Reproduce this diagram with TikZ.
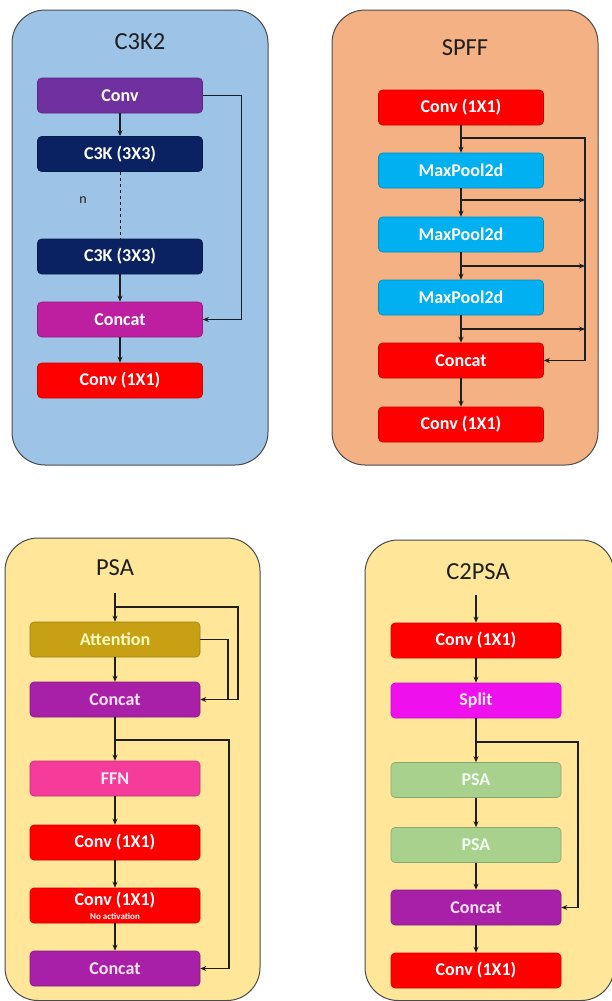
\documentclass[tikz,border=0pt]{standalone}
\usepackage{fontspec}
\setmainfont{Carlito}
\usetikzlibrary{arrows.meta}

\definecolor{panelblue}{HTML}{9DC3E6}
\definecolor{panelpeach}{HTML}{F4B183}
\definecolor{panelyellow}{HTML}{FFE699}
\definecolor{convpurple}{HTML}{7030A0}
\definecolor{c3knavy}{HTML}{0A2262}
\definecolor{catmagenta}{HTML}{BE1EA0}
\definecolor{redbox}{HTML}{FF0000}
\definecolor{poolcyan}{HTML}{00B0F0}
\definecolor{attgold}{HTML}{C8A014}
\definecolor{catpurple}{HTML}{A820A8}
\definecolor{ffnpink}{HTML}{F53C9B}
\definecolor{splitmag}{HTML}{EE11EE}
\definecolor{psagreen}{HTML}{A9D18E}
\definecolor{linegray}{HTML}{1E1E1E}

\tikzset{
  panel/.style={draw=linegray!80, line width=1pt, rounded corners=33pt},
  blk/.style={rounded corners=4pt, minimum height=35pt, inner sep=0pt,
    font=\fontsize{18}{20}\selectfont\bfseries, text=white,
    draw=#1!80!black, line width=0.6pt, fill=#1},
  narrowblk/.style={minimum width=165pt},
  wideblk/.style={minimum width=170pt},
  title/.style={font=\fontsize{24.5}{26}\selectfont, text=linegray},
  arr/.style={draw=linegray, line width=1.2pt, -{Stealth[length=6pt,width=5pt]}},
  ln/.style={draw=linegray, line width=1.2pt},
}

\begin{document}
\begin{tikzpicture}[x=1pt, y=-1pt]
\useasboundingbox (0,0) rectangle (611,1001);
\fill[white] (0,0) rectangle (611,1001);

% ---------- C3K2 ----------
\draw[panel, fill=panelblue] (12,10) rectangle (268,465);
\node[title] (t1) at (140,42) {C3K2};
\node[blk=convpurple, narrowblk] (c1conv) at (120,95.5) {Conv};
\node[blk=c3knavy, narrowblk] (c1ka) at (120,154) {C3K (3X3)};
\node[blk=c3knavy, narrowblk] (c1kb) at (120,256.5) {C3K (3X3)};
\node[blk=catmagenta, narrowblk] (c1cat) at (120,319.5) {Concat};
\node[blk=redbox, narrowblk] (c1out) at (120,380.5) {Conv (1X1)};
\node[font=\fontsize{14}{15}\selectfont, text=linegray] (c1n) at (83,200) {n};
\draw[arr] (c1conv) -- (c1ka);
\draw[ln, dashed, line width=0.9pt] (c1ka) -- (c1kb);
\draw[arr] (c1kb) -- (c1cat);
\draw[arr] (c1cat) -- (c1out);
\draw[arr] (c1conv.east) -- ++(39,0) |- (c1cat.east);

% ---------- SPFF ----------
\draw[panel, fill=panelpeach] (332,10) rectangle (598,465);
\node[title] (t2) at (465,48) {SPFF};
\node[blk=redbox, narrowblk] (s1) at (461,107.5) {Conv (1X1)};
\node[blk=poolcyan, narrowblk] (s2) at (461,170.5) {MaxPool2d};
\node[blk=poolcyan, narrowblk] (s3) at (461,234.5) {MaxPool2d};
\node[blk=poolcyan, narrowblk] (s4) at (461,297.5) {MaxPool2d};
\node[blk=redbox, narrowblk] (s5) at (461,360.5) {Concat};
\node[blk=redbox, narrowblk] (s6) at (461,424.5) {Conv (1X1)};
\draw[arr] (s1) -- (s2);
\draw[arr] (s2) -- (s3);
\draw[arr] (s3) -- (s4);
\draw[arr] (s4) -- (s5);
\draw[arr] (s5) -- (s6);
\coordinate (sb0) at (461,138);
\coordinate (sb1) at (461,200);
\coordinate (sb2) at (461,266);
\coordinate (sb3) at (461,329);
\coordinate (sbus) at (585,138);
\draw[arr] (sb0) -- (sbus) |- (s5.east);
\draw[arr] (sb1) -- (sbus |- sb1);
\draw[arr] (sb2) -- (sbus |- sb2);
\draw[arr] (sb3) -- (sbus |- sb3);

% ---------- PSA ----------
\draw[panel, fill=panelyellow] (5,538) rectangle (260,1000.5);
\node[title] (t3) at (115,568) {PSA};
\node[blk=attgold, wideblk, text=yellow!25] (p1) at (115,639.5) {Attention};
\node[blk=catpurple, wideblk, text=magenta!12] (p2) at (115,699.5) {Concat};
\node[blk=ffnpink, wideblk, text=magenta!8] (p3) at (115,778.5) {FFN};
\node[blk=redbox, wideblk] (p4) at (115,842.5) {Conv (1X1)};
\node[blk=redbox, wideblk, align=center] (p5) at (115,905.5)
  {Conv (1X1)\\[-6pt]{\fontsize{9}{10}\selectfont\bfseries No activation}};
\node[blk=catpurple, wideblk, text=magenta!12] (p6) at (115,968.5) {Concat};
\coordinate (pin) at (115,593);
\coordinate (pb0) at (115,607);
\coordinate (pb1) at (115,740);
\draw[arr] (pin) -- (p1);
\draw[arr] (pb0) -- (238,607) |- (p2.east);
\draw[ln] (p1.east) -- (228,639.5) -- (228,699.5);
\draw[arr] (p1) -- (p2);
\draw[arr] (p2) -- (p3);
\draw[arr] (pb1) -- (229,740) |- (p6.east);
\draw[arr] (p3) -- (p4);
\draw[arr] (p4) -- (p5);
\draw[arr] (p5) -- (p6);

% ---------- C2PSA ----------
\draw[panel, fill=panelyellow] (365,540) rectangle (614,1000.5);
\node[title] (t4) at (478,572) {C2PSA};
\node[blk=redbox, wideblk] (q1) at (476,640.5) {Conv (1X1)};
\node[blk=splitmag, wideblk, text=magenta!8] (q2) at (476,700.5) {Split};
\node[blk=psagreen, wideblk, text=green!5] (q3) at (476,780) {PSA};
\node[blk=psagreen, wideblk, text=green!5] (q4) at (476,845) {PSA};
\node[blk=catpurple, wideblk, text=magenta!12] (q5) at (476,907.5) {Concat};
\node[blk=redbox, wideblk] (q6) at (476,970.5) {Conv (1X1)};
\coordinate (qin) at (476,595);
\coordinate (qb) at (476,742);
\draw[arr] (qin) -- (q1);
\draw[arr] (q1) -- (q2);
\draw[arr] (q2) -- (q3);
\draw[arr] (qb) -- (578,742) |- (q5.east);
\draw[arr] (q3) -- (q4);
\draw[arr] (q4) -- (q5);
\draw[arr] (q5) -- (q6);
\end{tikzpicture}
\end{document}
